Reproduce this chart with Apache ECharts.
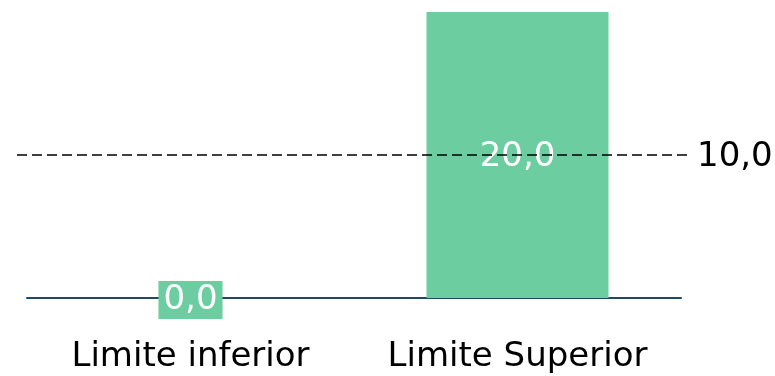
<!DOCTYPE html>
<html>
<head>
<meta charset="utf-8">
<script src="https://cdn.jsdelivr.net/npm/echarts@6/dist/echarts.min.js"></script>
<style>
  html, body { margin: 0; padding: 0; background: #fff; }
  #chart { width: 775px; height: 376px; }
</style>
</head>
<body>
<div id="chart"></div>
<script>
// Lower and upper limits with a reference line
const categories = ['Limite inferior', 'Limite Superior'];
const values = [0.0, 20.0];
const referenceValue = 10.0;

const FONT = 'DejaVu Sans';
const GREEN = '#6bcda0';
const fmt = v => Number(v).toFixed(1).replace('.', ',');

const chart = echarts.init(document.getElementById('chart'));
chart.setOption({
  animation: false,
  grid: { left: 27, right: 94, top: 12, bottom: 78 },
  xAxis: {
    type: 'category',
    data: categories,
    axisLine: { lineStyle: { color: '#1d4a6b', width: 2 } },
    axisTick: { show: false },
    axisLabel: { interval: 0, color: '#000', fontFamily: FONT, fontSize: 34, margin: 42 }
  },
  yAxis: {
    type: 'value',
    min: 0,
    max: 20,
    show: false,
    splitLine: { show: false }
  },
  series: [{
    type: 'bar',
    // the zero-height bar gets its value on a filled tag so it stays readable over the axis
    data: values.map(v => v === 0
      ? { value: v, label: { backgroundColor: GREEN, padding: [2, 5, 2, 5] } }
      : v),
    barWidth: 182,
    itemStyle: { color: GREEN },
    label: {
      show: true,
      position: 'inside',
      offset: [0, 2],
      color: '#fff',
      fontFamily: FONT,
      fontSize: 34,
      formatter: p => fmt(p.value)
    },
    markLine: {
      silent: true,
      symbol: 'none',
      z: 10,
      lineStyle: { color: '#000', type: [10, 5], width: 1.5 },
      label: {
        position: 'end',
        distance: 9,
        offset: [0, 2],
        color: '#000',
        fontFamily: FONT,
        fontSize: 34,
        formatter: () => fmt(referenceValue)
      },
      data: [[{ x: 17, yAxis: referenceValue }, { x: 688, yAxis: referenceValue }]]
    }
  }]
});
</script>
</body>
</html>
